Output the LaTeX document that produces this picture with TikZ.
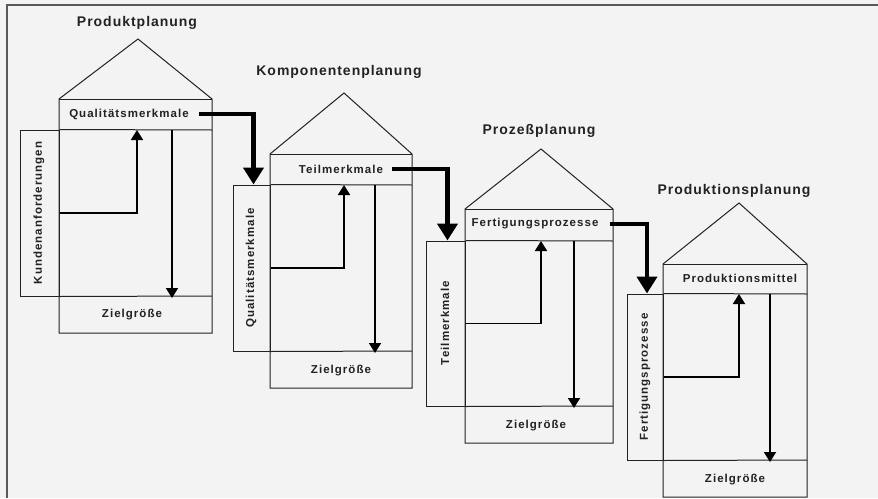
\documentclass[tikz,border=0pt]{standalone}
\usepackage{fontspec}
\setmainfont{Liberation Sans}
\newfontfamily\titlefont[LetterSpace=7]{Liberation Sans}
\newfontfamily\lblfont[LetterSpace=9]{Liberation Sans}
\usetikzlibrary{arrows.meta}
\definecolor{bg}{HTML}{F3F3F3}
\definecolor{ink}{HTML}{222222}
\begin{document}
\begin{tikzpicture}[x=1pt,y=-1pt,
  house/.style={draw=ink, line width=1pt, fill=bg},
  edge/.style={draw=ink, line width=1pt},
  sidebox/.style={draw=ink, line width=1pt, inner sep=0pt, minimum height=166pt},
  title/.style={font=\titlefont\bfseries\fontsize{14}{16}\selectfont, text=ink, inner sep=0pt},
  lbl/.style={font=\lblfont\bfseries\fontsize{11.5}{13}\selectfont, text=ink, inner sep=0pt},
  thinarrow/.style={line width=1.8pt, draw=black, -{Triangle[width=12pt,length=10pt]}},
  flow/.style={line width=4.5pt, draw=black, -{Triangle[width=20pt,length=17pt]}},
  frameline/.style={draw=black!65, line width=1.6pt}]
\useasboundingbox (0,0) rectangle (878,498);
\fill[bg] (0,0) rectangle (878,498);
\coordinate (fa) at (7,498);
\coordinate (fb) at (7,5);
\coordinate (fc) at (878,5);
\draw[frameline] (fa) -- (fb) -- (fc);

% ---------- House 1: Produktplanung ----------
\draw[house] (59,99) -- (138,39) -- (212,99) -- (212,333) -- (59,333) -- cycle;
\draw[edge] (59,99) -- (212,99);
\node[sidebox, minimum width=39pt] (b1) at (39.5,213) {};
\draw[edge] (b1.north east) -- (212,130);
\draw[edge] (b1.south east) -- (212,296);
\node[lbl, rotate=90] (k1) at (39,213) {Kundenanforderungen};
\node[lbl] (q1) at (129,114) {Qualitätsmerkmale};
\node[lbl] (z1) at (132,315) {Zielgröße};
\node[title] (t1) at (137,23) {Produktplanung};
\coordinate (u1) at (137,130);
\coordinate (d1a) at (172,130);
\coordinate (d1b) at (172,298);
\draw[thinarrow] (b1.east) -| (u1);
\draw[thinarrow] (d1a) -- (d1b);

% ---------- House 2: Komponentenplanung ----------
\draw[house] (270,154) -- (344,93) -- (412,154) -- (412,388) -- (270,388) -- cycle;
\draw[edge] (270,154) -- (412,154);
\node[sidebox, minimum width=37pt] (b2) at (251.5,268) {};
\draw[edge] (b2.north east) -- (412,185);
\draw[edge] (b2.south east) -- (412,351);
\node[lbl, rotate=90] (k2) at (251,268) {Qualitätsmerkmale};
\node[lbl] (q2) at (341,169) {Teilmerkmale};
\node[lbl] (z2) at (341,371) {Zielgröße};
\node[title] (t2) at (339,72) {Komponentenplanung};
\coordinate (u2) at (344,185);
\coordinate (d2a) at (375,185);
\coordinate (d2b) at (375,353);
\draw[thinarrow] (b2.east) -| (u2);
\draw[thinarrow] (d2a) -- (d2b);

% ---------- House 3: Prozeßplanung ----------
\draw[house] (465,209) -- (541,149) -- (613,209) -- (613,443) -- (465,443) -- cycle;
\draw[edge] (465,209) -- (613,209);
\node[sidebox, minimum width=39pt, minimum height=165pt] (b3) at (445.5,323.5) {};
\draw[edge] (b3.north east) -- (613,241);
\draw[edge] (b3.south east) -- (613,406);
\node[lbl, rotate=90] (k3) at (445,323) {Teilmerkmale};
\node[lbl] (q3) at (535,224) {Fertigungsprozesse};
\node[lbl] (z3) at (536,426) {Zielgröße};
\node[title] (t3) at (539,131) {Prozeßplanung};
\coordinate (u3) at (541,241);
\coordinate (d3a) at (574,241);
\coordinate (d3b) at (574,408);
\draw[thinarrow] (b3.east) -| (u3);
\draw[thinarrow] (d3a) -- (d3b);

% ---------- House 4: Produktionsplanung ----------
\draw[house] (663,264) -- (739,203) -- (807,264) -- (807,497) -- (663,497) -- cycle;
\draw[edge] (663,264) -- (807,264);
\node[sidebox, minimum width=36pt] (b4) at (645,377) {};
\draw[edge] (b4.north east) -- (807,294);
\draw[edge] (b4.south east) -- (807,460);
\node[lbl, rotate=90] (k4) at (645,377) {Fertigungsprozesse};
\node[lbl] (q4) at (740,278) {Produktionsmittel};
\node[lbl] (z4) at (735,480) {Zielgröße};
\node[title] (t4) at (734,191) {Produktionsplanung};
\coordinate (u4) at (739,294);
\coordinate (d4a) at (770,294);
\coordinate (d4b) at (770,462);
\draw[thinarrow] (b4.east) -| (u4);
\draw[thinarrow] (d4a) -- (d4b);

% ---------- flow between houses ----------
\draw[flow] ([xshift=10pt]q1.east) -| ([xshift=2pt]b2.north);
\draw[flow] ([xshift=9pt]q2.east) -| ([xshift=2pt]b3.north);
\draw[flow] ([xshift=11pt]q3.east) -| ([xshift=2pt]b4.north);
\end{tikzpicture}
\end{document}
